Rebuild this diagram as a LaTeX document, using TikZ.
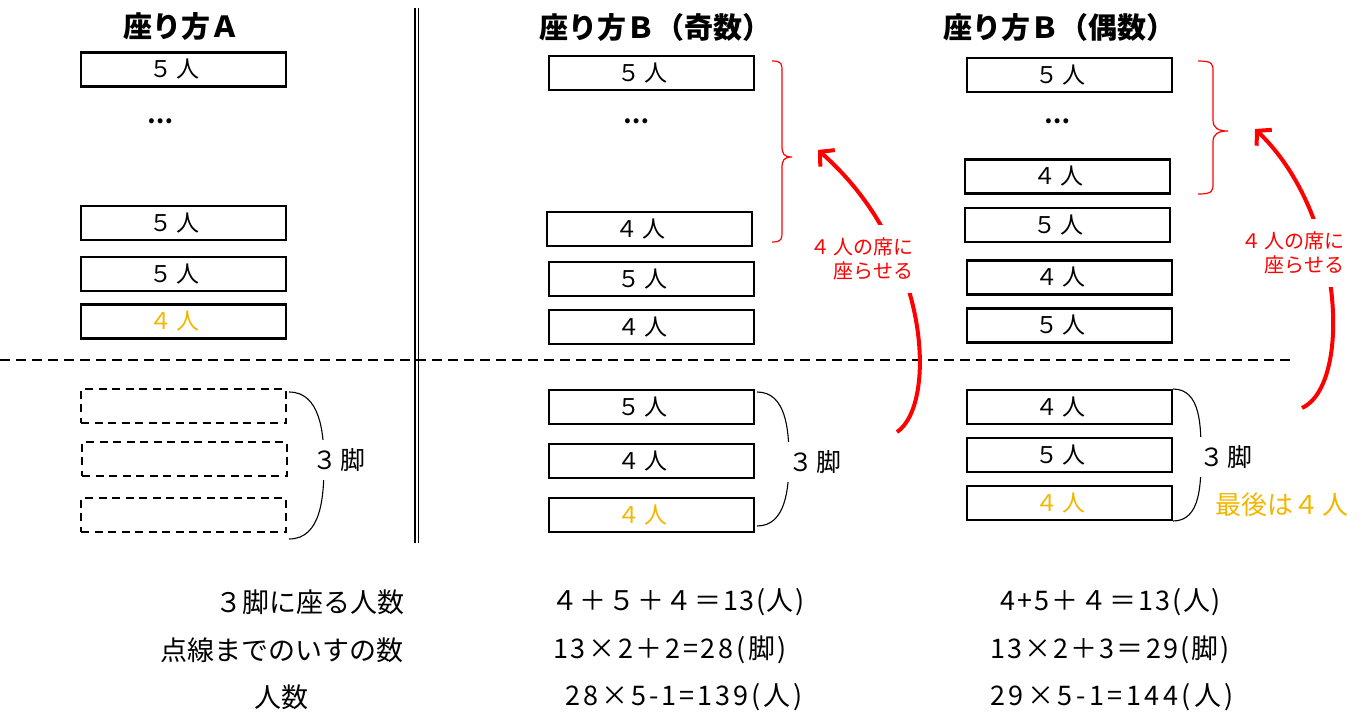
\documentclass[tikz,border=0pt]{standalone}
\usepackage{fontspec}
\setmainfont{Noto Sans CJK JP}
\usetikzlibrary{arrows.meta}
\definecolor{gold}{RGB}{242,182,0}
\definecolor{myred}{RGB}{255,0,0}
\newcommand{\gofive}{５\kern4pt 人\kern18pt}
\newcommand{\gofour}{４\kern4pt 人\kern18pt}
\begin{document}
\begin{tikzpicture}[x=1pt,y=-1pt,
  seat/.style={draw, line width=2.6pt, minimum width=205pt, minimum height=34pt, inner sep=0pt, font=\fontsize{23pt}{26pt}\selectfont},
  ghost/.style={seat, dash pattern=on 8pt off 5.5pt},
  title/.style={font=\fontsize{29pt}{32pt}\selectfont\bfseries},
  dots/.style={font=\fontsize{23pt}{26pt}\selectfont\bfseries},
  legs/.style={fill=white, inner sep=8pt, font=\fontsize{25pt}{28pt}\selectfont},
  note/.style={fill=white, inner xsep=12pt, inner ysep=13pt, align=right, text=myred, font=\fontsize{20pt}{24pt}\selectfont},
  calc/.style={font=\fontsize{27pt}{30pt}\selectfont},
  curly/.style={myred, line width=1.2pt},
  bow/.style={line width=1.1pt},
  move/.style={myred, line width=4pt, -{Straight Barb[length=10pt,width=22pt]}},
]
\useasboundingbox (0,0) rectangle (1367,715);

% separators
\draw[line width=2pt, dash pattern=on 10pt off 6pt] (0,360) -- (1290,360);
\draw[line width=1.3pt] (415,8) -- (415,543);
\draw[line width=1.3pt] (418.5,8) -- (418.5,543);

% titles
\node[title] (tA) at (181,27) {座り方Ａ};
\node[title] (tB) at (655,27) {座り方Ｂ（奇数）};
\node[title] (tC) at (1059,27) {座り方Ｂ（偶数）};

% column A
\node[seat] (a1) at (183.5,69.5) {\gofive};
\node[dots] (ad) at (160,121) {…};
\node[seat] (a2) at (183.5,223) {\gofive};
\node[seat] (a3) at (183.5,274) {\gofive};
\node[seat, text=gold] (a4) at (183.5,321.5) {\gofour};
\node[ghost] (g1) at (183.5,406) {};
\node[ghost] (g2) at (184.5,459) {};
\node[ghost] (g3) at (183.5,515) {};

% column B odd
\node[seat] (b1) at (651.5,73) {\gofive};
\node[dots] (bd) at (636,121) {…};
\node[seat] (b2) at (649.5,229) {\gofour};
\node[seat] (b3) at (651.5,279) {\gofive};
\node[seat] (b4) at (651.5,327) {\gofour};
\node[seat] (b5) at (651.5,407) {\gofive};
\node[seat] (b6) at (651.5,461) {\gofour};
\node[seat, text=gold] (b7) at (651.5,515) {\gofour};

% column B even
\node[seat] (c1) at (1069.5,75) {\gofive};
\node[dots] (cd) at (1057,121) {…};
\node[seat] (c2) at (1067.5,176.5) {\gofour};
\node[seat] (c3) at (1067.5,225) {\gofive};
\node[seat] (c4) at (1069.5,277.5) {\gofour};
\node[seat] (c5) at (1069.5,325.5) {\gofive};
\node[seat] (c6) at (1069.5,407) {\gofour};
\node[seat] (c7) at (1069.5,455) {\gofive};
\node[seat, text=gold] (c8) at (1069.5,503) {\gofour};

% black bows for the three chairs
\coordinate (aT) at (289,392); \coordinate (aM) at (324,463); \coordinate (aB) at (289,539);
\draw[bow] (aT) to[out=0,in=90] (aM) to[out=-90,in=0] (aB);
\coordinate (bT) at (757,392); \coordinate (bM) at (789,459); \coordinate (bB) at (757,526);
\draw[bow] (bT) to[out=0,in=90] (bM) to[out=-90,in=0] (bB);
\coordinate (cT) at (1173,389); \coordinate (cM) at (1201,455); \coordinate (cB) at (1173,521);
\draw[bow] (cT) to[out=0,in=90] (cM) to[out=-90,in=0] (cB);
\node[legs] (la) at (339,460) {３\kern3pt 脚};
\node[legs] (lb) at (815,462) {３\kern3pt 脚};
\node[legs] (lc) at (1226,457) {３\kern3pt 脚};
\node[font=\fontsize{26pt}{28pt}\selectfont, text=gold] (last) at (1282,505) {最後は４\kern3pt 人};

% red braces
\draw[curly] (772,61) .. controls (782,61) and (782,64) .. (782,72) -- (782,146)
  .. controls (782,154) and (784,157) .. (792,157)
  .. controls (784,157) and (782,160) .. (782,168) -- (782,231)
  .. controls (782,239) and (782,242) .. (772,242);
\draw[curly] (1198,61) .. controls (1213,61) and (1213,64) .. (1213,72) -- (1213,120)
  .. controls (1213,128) and (1218,131) .. (1228,131)
  .. controls (1218,131) and (1213,134) .. (1213,142) -- (1213,183)
  .. controls (1213,191) and (1213,194) .. (1198,194);

% red arrows
\coordinate (rb0) at (897,432); \coordinate (rb1) at (818,150);
\draw[move] (rb0) .. controls (937,405) and (932,250) .. (rb1);
\node[note] (nb) at (862,259) {４\kern3pt 人の席に\\座らせる};
\coordinate (rc0) at (1302,408); \coordinate (rc1) at (1255,129);
\draw[move] (rc0) .. controls (1352,385) and (1345,215) .. (rc1);
\node[note] (nc) at (1293,253) {４\kern3pt 人の席に\\座らせる};

% bottom calculations
\node[calc, anchor=east] (k1) at (408,602) {３脚に座る人数};
\node[calc] (k2) at (282,650) {点線までのいすの数};
\node[calc] (k3) at (281,697) {人数};
\node[calc] (e1) at (678,602) {\addfontfeature{LetterSpace=6}４＋５＋４＝13(人)};
\node[calc] (e2) at (670,650) {\addfontfeature{LetterSpace=10}13×2＋2=28(脚)};
\node[calc] (e3) at (684,697) {\addfontfeature{LetterSpace=11}28×5-1=139(人)};
\node[calc] (f1) at (1111,602) {\addfontfeature{LetterSpace=7}4+5＋４＝13(人)};
\node[calc] (f2) at (1110,650) {\addfontfeature{LetterSpace=8}13×2＋3＝29(脚)};
\node[calc] (f3) at (1112,697) {\addfontfeature{LetterSpace=13}29×5-1=144(人)};
\end{tikzpicture}
\end{document}
